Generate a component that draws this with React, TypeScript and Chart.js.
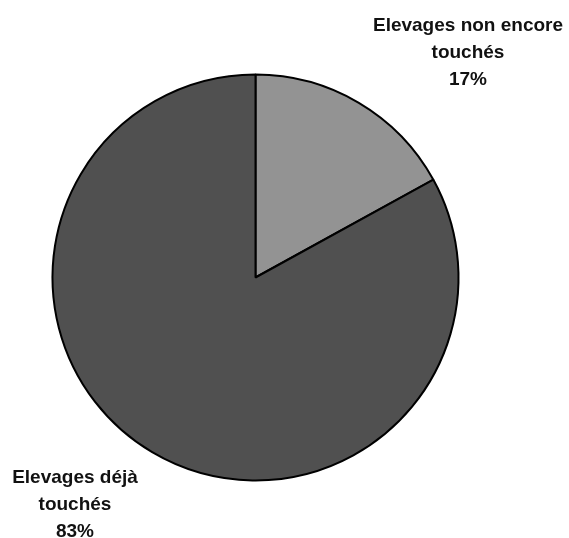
import React, { useEffect, useRef } from "react";
import { Chart, registerables } from "chart.js";

Chart.register(...registerables);

const categoryLines: string[][] = [
  ["Elevages non encore", "touchés"],
  ["Elevages déjà", "touchés"],
];
const values: number[] = [17, 83];
const percentLabels: string[] = ["17%", "83%"];
const sliceColors: string[] = ["#939393", "#505050"];

export default function App() {
  const ref = useRef<HTMLCanvasElement>(null);

  useEffect(() => {
    if (!ref.current) return;
    const labelPositions = [
      { x: 468, y: 31 },
      { x: 75, y: 483 },
    ];
    const labelPlugin = {
      id: "outerLabels",
      afterDraw(chart: any) {
        const ctx = chart.ctx as CanvasRenderingContext2D;
        ctx.save();
        ctx.font = "bold 19px 'Liberation Sans', Arial, sans-serif";
        ctx.fillStyle = "#111111";
        ctx.textAlign = "center";
        ctx.textBaseline = "alphabetic";
        categoryLines.forEach((lines, i) => {
          const all = [...lines, percentLabels[i]];
          all.forEach((t, j) => {
            ctx.fillText(t, labelPositions[i].x, labelPositions[i].y + j * 27);
          });
        });
        ctx.restore();
      },
    };

    const chart = new Chart(ref.current, {
      type: "pie",
      data: {
        labels: categoryLines.map((l) => l.join(" ")),
        datasets: [
          {
            data: values,
            backgroundColor: sliceColors,
            borderColor: "#000000",
            borderWidth: 2,
          },
        ],
      },
      options: {
        responsive: false,
        animation: false,
        layout: {
          padding: { left: 51.5, top: 73.5, right: 109.5, bottom: 56.5 },
        },
        plugins: {
          legend: { display: false },
          tooltip: { enabled: false },
        },
      },
      plugins: [labelPlugin],
    });
    return () => chart.destroy();
  }, []);

  return (
    <div style={{ position: "fixed", left: 0, top: 0, width: 569, height: 538, background: "#fff" }}>
      <canvas ref={ref} width={569} height={538} style={{ display: "block" }} />
    </div>
  );
}
